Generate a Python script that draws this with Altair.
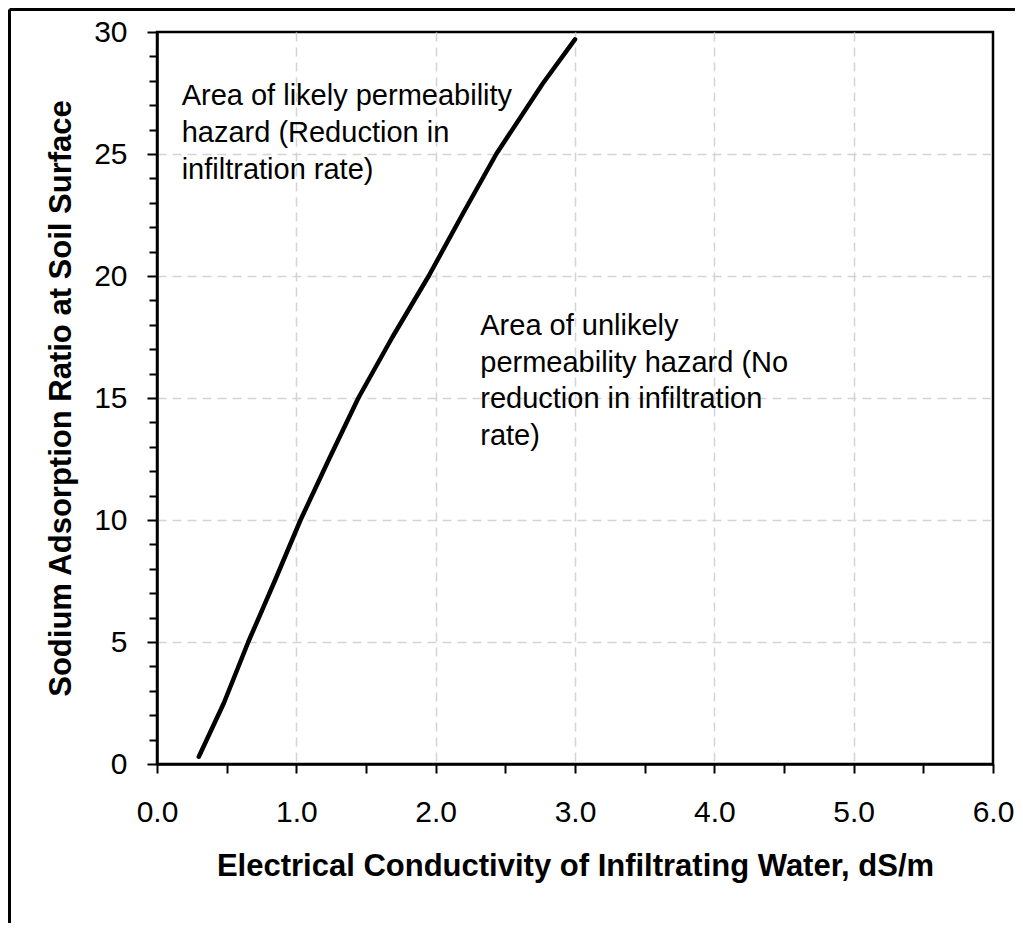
import altair as alt
import pandas as pd

# Curve: EC of infiltrating water (dS/m) vs SAR at soil surface
ec = [0.30, 0.48, 0.655, 0.845, 1.03, 1.235, 1.445, 1.69, 1.95, 2.19, 2.435, 2.77, 3.00]
sar = [0.3, 2.5, 5.0, 7.5, 10.0, 12.5, 15.0, 17.5, 20.0, 22.5, 25.0, 27.9, 29.7]

x_tick_values = [0.0, 0.5, 1.0, 1.5, 2.0, 2.5, 3.0, 3.5, 4.0, 4.5, 5.0, 5.5, 6.0]
y_tick_values = list(range(0, 31))

ann_x = [0.177, 2.32]
ann_y = [27.0, 17.58]
ann_text = [
    "Area of likely permeability\nhazard (Reduction in\ninfiltration rate)",
    "Area of unlikely\npermeability hazard (No\nreduction in infiltration\nrate)",
]

FONT = "Liberation Sans"

curve_df = pd.DataFrame({"ec": ec, "sar": sar})
ann_df = pd.DataFrame({"x": ann_x, "y": ann_y, "t": ann_text})

x_scale = alt.Scale(domain=[0, 6], nice=False, zero=False)
y_scale = alt.Scale(domain=[0, 30], nice=False, zero=False)

x_axis = alt.Axis(
    values=x_tick_values, tickCount=40,
    labelExpr="datum.value % 1 === 0 ? format(datum.value, '.1f') : ''",
    title="Electrical Conductivity of Infiltrating Water, dS/m",
    titleFont=FONT, titleFontSize=31, titleFontWeight="bold", titleColor="black",
    titleBaseline="alphabetic", titleY=111,
    labelFont=FONT, labelFontSize=30, labelColor="black", labelPadding=24,
    labelFlush=False, labelOverlap=False,
    tickColor="black", tickSize=9, tickWidth=2,
    domainColor="black", domainWidth=2.5,
    grid=True, gridColor="#d4d4d4", gridDash=[9, 6], gridWidth=1.5,
    gridOpacity={"condition": {"test": "datum.value % 1 === 0 && datum.value > 0 && datum.value < 6", "value": 1}, "value": 0},
)

y_axis = alt.Axis(
    values=y_tick_values, tickCount=40,
    labelExpr="datum.value % 5 === 0 ? datum.label : ''",
    title="Sodium Adsorption Ratio at Soil Surface",
    titleFont=FONT, titleFontSize=31, titleFontWeight="bold", titleColor="black",
    titleBaseline="alphabetic", titleX=-87,
    labelFont=FONT, labelFontSize=30, labelColor="black", labelPadding=20,
    labelFlush=False, labelOverlap=False,
    tickColor="black", tickWidth=2,
    tickSize={"condition": {"test": "datum.value % 5 === 0", "value": 10}, "value": 8},
    domainColor="black", domainWidth=2.5,
    grid=True, gridColor="#d4d4d4", gridDash=[9, 6], gridWidth=1.5,
    gridOpacity={"condition": {"test": "datum.value % 5 === 0 && datum.value > 0 && datum.value < 30", "value": 1}, "value": 0},
)

curve = alt.Chart(curve_df).mark_line(color="black", strokeWidth=4.5, strokeCap="round", strokeJoin="round").encode(
    x=alt.X("ec:Q", scale=x_scale, axis=x_axis),
    y=alt.Y("sar:Q", scale=y_scale, axis=y_axis),
    order=alt.Order("sar:Q"),
)

labels = alt.Chart(ann_df).mark_text(
    align="left", baseline="alphabetic", font=FONT, fontSize=29, color="black",
    lineBreak="\n", lineHeight=36.7,
).encode(
    x=alt.X("x:Q", scale=x_scale),
    y=alt.Y("y:Q", scale=y_scale),
    text="t:N",
)

frame_data = alt.Data(values=[{"k": 1}])
frame_left = alt.Chart(frame_data).mark_rule(color="black", strokeWidth=3).encode(
    x=alt.value(-147.5), y=alt.value(-22.5), y2=alt.value(1200)
)
frame_top = alt.Chart(frame_data).mark_rule(color="black", strokeWidth=3).encode(
    x=alt.value(-147.5), x2=alt.value(1200), y=alt.value(-22.5)
)

chart = alt.layer(curve, labels, frame_left, frame_top).properties(
    width=836,
    height=732,
    autosize=alt.AutoSizeParams(type="none"),
    padding={"left": 149, "top": 24, "right": 22, "bottom": 159},
    background="white",
).configure_view(
    stroke="black", strokeWidth=2.5
)

chart.save("out.html", embed_options={"renderer": "svg", "actions": False})
